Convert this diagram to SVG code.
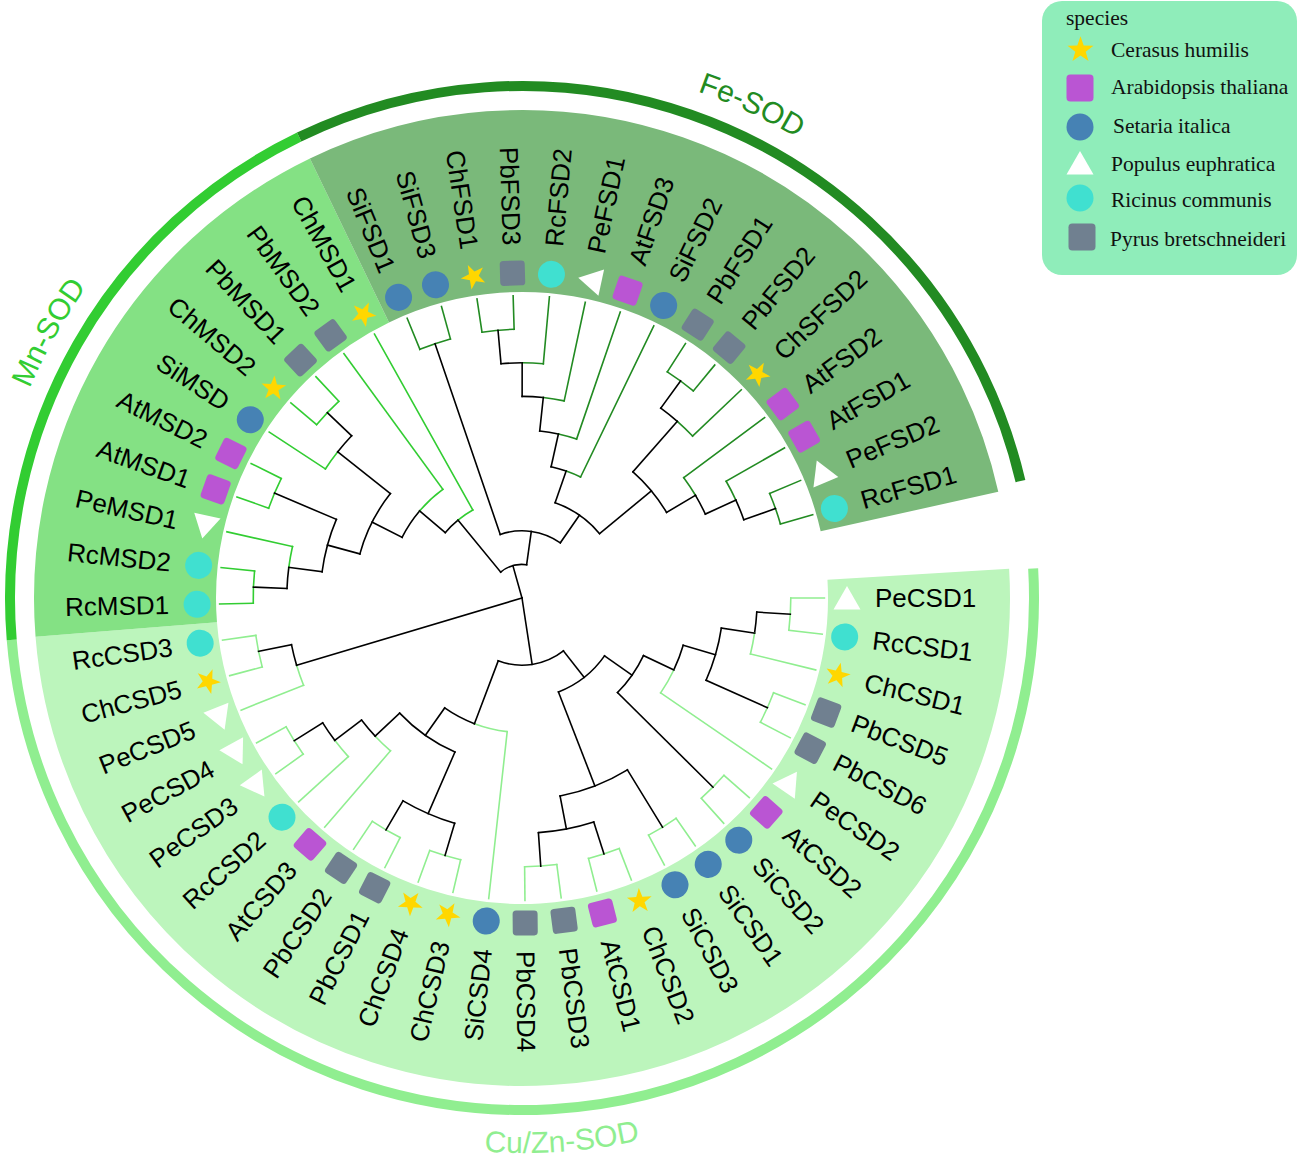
<svg xmlns="http://www.w3.org/2000/svg" xmlns:xlink="http://www.w3.org/1999/xlink" width="1299" height="1160" viewBox="0 0 1299 1160">
<style>
.k{stroke:#000}.fe{stroke:#228B22}.mn{stroke:#32CD32}.cu{stroke:#90EE90}
.ch{fill:#FFD700}.at{fill:#BA55D3}.si{fill:#4682B4}.pe{fill:#FFFFFF}.rc{fill:#40E0D0}.pb{fill:#708090}
.lbl text{font-family:"Liberation Sans",Arial,sans-serif;font-size:26px;fill:#000;dominant-baseline:central}
.lbl text.l{text-anchor:end}
.grp{font-family:"Liberation Sans",Arial,sans-serif;font-size:30px}
.lg{font-family:"Liberation Serif","Times New Roman",serif;font-size:21.5px;fill:#111}
</style>
<defs>
<circle id="c" r="13.5"/>
<rect id="sq" x="-12.5" y="-12.5" width="25" height="25" rx="3.5"/>
<path id="tri" d="M0,-12 L13.5,11.5 L-13.5,11.5 Z"/>
<path id="star" d="M0,-13 L3.05,-4.21 L12.36,-4.02 L4.95,1.61 L7.64,10.52 L0,5.2 L-7.64,10.52 L-4.95,1.61 L-12.36,-4.02 L-3.05,-4.21 Z"/>
<path id="pFe" d="M475.3,64.0 A536,536 0 0 1 961.1,290.6" fill="none"/>
<path id="pMn" d="M-12.96,604.5 A535,535 0 0 1 248.8,138.0" fill="none"/>
<path id="pCu" d="M324.9,1116.8 A555,555 0 0 0 792.8,1082.5" fill="none"/>
</defs>
<rect width="1299" height="1160" fill="#FFFFFF"/>
<g id="bands" fill="none" transform="translate(522 598)">
<circle r="397" stroke="#BCF5BC" stroke-width="182" pathLength="360" stroke-dasharray="178.88 400" transform="rotate(-3.44)"/>
<circle r="397" stroke="#84E184" stroke-width="182" pathLength="360" stroke-dasharray="68.8 400" transform="rotate(175.44)"/>
<circle r="397" stroke="#7AB97A" stroke-width="182" pathLength="360" stroke-dasharray="103.2 400" transform="rotate(244.24)"/>
</g>
<g id="group-arcs" fill="none" transform="translate(522 598)" stroke-width="10">
<circle id="arc-CuZn" r="512" stroke="#90EE90" pathLength="360" stroke-dasharray="178.6 400" transform="rotate(-3.3)"/>
<circle id="arc-Mn" r="512" stroke="#32CD32" pathLength="360" stroke-dasharray="68.9 400" transform="rotate(175.3)"/>
<circle id="arc-Fe" r="512" stroke="#228B22" pathLength="360" stroke-dasharray="102.6 400" transform="rotate(244.2)"/>
</g>
<g id="group-labels" class="grp">
<text fill="#228B22"><textPath href="#pFe" startOffset="50%" text-anchor="middle">Fe-SOD</textPath></text>
<text fill="#32CD32"><textPath href="#pMn" startOffset="50%" text-anchor="middle">Mn-SOD</textPath></text>
<text fill="#90EE90"><textPath href="#pCu" startOffset="50%" text-anchor="middle">Cu/Zn-SOD</textPath></text>
</g>
<g id="connectors" fill="none" stroke-width="1.6" stroke-linecap="square" transform="translate(522 598)">
<!-- arcs -->
<circle class="k" r="33.6" pathLength="360" stroke-dasharray="47.35 400" transform="rotate(230.59)"/>
<circle class="k" r="67.2" pathLength="360" stroke-dasharray="53.65 400" transform="rotate(251.12)"/>
<circle class="k" r="100.8" pathLength="360" stroke-dasharray="31.17 400" transform="rotate(289.18)"/>
<circle class="k" r="134.4" pathLength="360" stroke-dasharray="6.67 400" transform="rotate(282.51)"/>
<circle class="fe" r="134.4" pathLength="360" stroke-dasharray="6.66 400" transform="rotate(289.18)"/>
<circle class="k" r="168" pathLength="360" stroke-dasharray="6.45 400" transform="rotate(276.06)"/>
<circle class="fe" r="168" pathLength="360" stroke-dasharray="6.45 400" transform="rotate(282.51)"/>
<circle class="k" r="201.6" pathLength="360" stroke-dasharray="6.02 400" transform="rotate(270.04)"/>
<circle class="fe" r="201.6" pathLength="360" stroke-dasharray="6.02 400" transform="rotate(276.06)"/>
<circle class="k" r="235.2" pathLength="360" stroke-dasharray="5.16 400" transform="rotate(264.88)"/>
<circle class="fe" r="235.2" pathLength="360" stroke-dasharray="5.16 400" transform="rotate(270.04)"/>
<circle class="fe" r="268.8" pathLength="360" stroke-dasharray="6.88 400" transform="rotate(261.44)"/>
<circle class="fe" r="268.8" pathLength="360" stroke-dasharray="6.88 400" transform="rotate(247.68)"/>
<circle class="k" r="168" pathLength="360" stroke-dasharray="18.06 400" transform="rotate(311.32)"/>
<circle class="k" r="235.2" pathLength="360" stroke-dasharray="5.16 400" transform="rotate(306.16)"/>
<circle class="fe" r="235.2" pathLength="360" stroke-dasharray="5.16 400" transform="rotate(311.32)"/>
<circle class="fe" r="268.8" pathLength="360" stroke-dasharray="6.88 400" transform="rotate(302.72)"/>
<circle class="fe" r="201.6" pathLength="360" stroke-dasharray="6.02 400" transform="rotate(323.36)"/>
<circle class="k" r="201.6" pathLength="360" stroke-dasharray="6.02 400" transform="rotate(329.38)"/>
<circle class="fe" r="235.2" pathLength="360" stroke-dasharray="5.16 400" transform="rotate(330.24)"/>
<circle class="k" r="235.2" pathLength="360" stroke-dasharray="5.16 400" transform="rotate(335.4)"/>
<circle class="fe" r="268.8" pathLength="360" stroke-dasharray="6.88 400" transform="rotate(337.12)"/>
<circle class="k" r="100.8" pathLength="360" stroke-dasharray="10.21 400" transform="rotate(220.38)"/>
<circle class="mn" r="100.8" pathLength="360" stroke-dasharray="10.21 400" transform="rotate(230.59)"/>
<circle class="k" r="134.4" pathLength="360" stroke-dasharray="13.55 400" transform="rotate(206.83)"/>
<circle class="mn" r="134.4" pathLength="360" stroke-dasharray="13.54 400" transform="rotate(220.38)"/>
<circle class="k" r="168" pathLength="360" stroke-dasharray="23.22 400" transform="rotate(195.22)"/>
<circle class="mn" r="235.2" pathLength="360" stroke-dasharray="5.16 400" transform="rotate(213.28)"/>
<circle class="k" r="235.2" pathLength="360" stroke-dasharray="5.16 400" transform="rotate(218.44)"/>
<circle class="mn" r="268.8" pathLength="360" stroke-dasharray="6.88 400" transform="rotate(220.16)"/>
<circle class="k" r="201.6" pathLength="360" stroke-dasharray="15.48 400" transform="rotate(187.48)"/>
<circle class="mn" r="268.8" pathLength="360" stroke-dasharray="6.88 400" transform="rotate(199.52)"/>
<circle class="k" r="235.2" pathLength="360" stroke-dasharray="5.16 400" transform="rotate(182.32)"/>
<circle class="mn" r="235.2" pathLength="360" stroke-dasharray="5.16 400" transform="rotate(187.48)"/>
<circle class="mn" r="268.8" pathLength="360" stroke-dasharray="6.88 400" transform="rotate(178.88)"/>
<circle class="cu" r="235.2" pathLength="360" stroke-dasharray="5.16 400" transform="rotate(158.24)"/>
<circle class="k" r="235.2" pathLength="360" stroke-dasharray="5.16 400" transform="rotate(163.4)"/>
<circle class="cu" r="268.8" pathLength="360" stroke-dasharray="6.88 400" transform="rotate(165.12)"/>
<circle class="k" r="67.2" pathLength="360" stroke-dasharray="58.81 400" transform="rotate(51.92)"/>
<circle class="k" r="100.8" pathLength="360" stroke-dasharray="33.75 400" transform="rotate(35.05)"/>
<circle class="k" r="134.4" pathLength="360" stroke-dasharray="19.35 400" transform="rotate(25.37)"/>
<circle class="cu" r="268.8" pathLength="360" stroke-dasharray="6.88 400" transform="rotate(41.28)"/>
<circle class="k" r="168" pathLength="360" stroke-dasharray="9.03 400" transform="rotate(16.34)"/>
<circle class="cu" r="168" pathLength="360" stroke-dasharray="9.03 400" transform="rotate(25.37)"/>
<circle class="k" r="201.6" pathLength="360" stroke-dasharray="15.48 400" transform="rotate(8.6)"/>
<circle class="cu" r="268.8" pathLength="360" stroke-dasharray="6.88 400" transform="rotate(20.64)"/>
<circle class="k" r="235.2" pathLength="360" stroke-dasharray="5.16 400" transform="rotate(3.44)"/>
<circle class="cu" r="235.2" pathLength="360" stroke-dasharray="5.16 400" transform="rotate(8.6)"/>
<circle class="cu" r="268.8" pathLength="360" stroke-dasharray="6.88 400" transform="rotate(0)"/>
<circle class="k" r="201.6" pathLength="360" stroke-dasharray="20.64 400" transform="rotate(58.48)"/>
<circle class="cu" r="268.8" pathLength="360" stroke-dasharray="6.88 400" transform="rotate(55.04)"/>
<circle class="k" r="235.2" pathLength="360" stroke-dasharray="13.76 400" transform="rotate(72.24)"/>
<circle class="cu" r="268.8" pathLength="360" stroke-dasharray="6.88 400" transform="rotate(68.8)"/>
<circle class="cu" r="268.8" pathLength="360" stroke-dasharray="6.88 400" transform="rotate(82.56)"/>
<circle class="cu" r="134.4" pathLength="360" stroke-dasharray="14.41 400" transform="rotate(96.32)"/>
<circle class="k" r="134.4" pathLength="360" stroke-dasharray="14.4 400" transform="rotate(110.73)"/>
<circle class="k" r="168" pathLength="360" stroke-dasharray="23.22 400" transform="rotate(113.52)"/>
<circle class="k" r="235.2" pathLength="360" stroke-dasharray="13.76 400" transform="rotate(106.64)"/>
<circle class="cu" r="268.8" pathLength="360" stroke-dasharray="6.88 400" transform="rotate(103.2)"/>
<circle class="cu" r="268.8" pathLength="360" stroke-dasharray="6.88 400" transform="rotate(116.96)"/>
<circle class="cu" r="201.6" pathLength="360" stroke-dasharray="6.02 400" transform="rotate(130.72)"/>
<circle class="k" r="201.6" pathLength="360" stroke-dasharray="6.02 400" transform="rotate(136.74)"/>
<circle class="cu" r="235.2" pathLength="360" stroke-dasharray="5.16 400" transform="rotate(137.6)"/>
<circle class="k" r="235.2" pathLength="360" stroke-dasharray="5.16 400" transform="rotate(142.76)"/>
<circle class="cu" r="268.8" pathLength="360" stroke-dasharray="6.88 400" transform="rotate(144.48)"/>
<!-- internal radial lines -->
<line class="k" x1="0" x2="33.6" transform="rotate(254.27)"/>
<line class="k" x1="0" x2="235.2" transform="rotate(163.4)"/>
<line class="k" x1="0" x2="67.2" transform="rotate(81.32)"/>
<line class="k" x1="33.6" x2="100.8" transform="rotate(230.59)"/>
<line class="k" x1="33.6" x2="67.2" transform="rotate(277.94)"/>
<line class="k" x1="67.2" x2="268.8" transform="rotate(251.12)"/>
<line class="k" x1="67.2" x2="100.8" transform="rotate(304.77)"/>
<line class="k" x1="100.8" x2="134.4" transform="rotate(289.18)"/>
<line class="k" x1="100.8" x2="168" transform="rotate(320.35)"/>
<line class="k" x1="134.4" x2="168" transform="rotate(282.51)"/>
<line class="k" x1="168" x2="201.6" transform="rotate(276.06)"/>
<line class="k" x1="201.6" x2="235.2" transform="rotate(270.04)"/>
<line class="k" x1="235.2" x2="268.8" transform="rotate(264.88)"/>
<line class="k" x1="168" x2="235.2" transform="rotate(311.32)"/>
<line class="k" x1="168" x2="201.6" transform="rotate(329.38)"/>
<line class="k" x1="235.2" x2="268.8" transform="rotate(306.16)"/>
<line class="k" x1="201.6" x2="235.2" transform="rotate(335.4)"/>
<line class="k" x1="235.2" x2="268.8" transform="rotate(340.56)"/>
<line class="k" x1="100.8" x2="134.4" transform="rotate(220.38)"/>
<line class="k" x1="134.4" x2="168" transform="rotate(206.83)"/>
<line class="k" x1="168" x2="201.6" transform="rotate(195.22)"/>
<line class="k" x1="168" x2="235.2" transform="rotate(218.44)"/>
<line class="k" x1="235.2" x2="268.8" transform="rotate(223.6)"/>
<line class="k" x1="201.6" x2="235.2" transform="rotate(187.48)"/>
<line class="k" x1="201.6" x2="268.8" transform="rotate(202.96)"/>
<line class="k" x1="235.2" x2="268.8" transform="rotate(182.32)"/>
<line class="k" x1="235.2" x2="268.8" transform="rotate(168.56)"/>
<line class="k" x1="67.2" x2="100.8" transform="rotate(51.92)"/>
<line class="k" x1="67.2" x2="134.4" transform="rotate(110.73)"/>
<line class="k" x1="100.8" x2="134.4" transform="rotate(35.05)"/>
<line class="k" x1="100.8" x2="201.6" transform="rotate(68.8)"/>
<line class="k" x1="134.4" x2="168" transform="rotate(25.37)"/>
<line class="k" x1="134.4" x2="268.8" transform="rotate(44.72)"/>
<line class="k" x1="168" x2="201.6" transform="rotate(16.34)"/>
<line class="k" x1="201.6" x2="235.2" transform="rotate(8.6)"/>
<line class="k" x1="201.6" x2="268.8" transform="rotate(24.08)"/>
<line class="k" x1="235.2" x2="268.8" transform="rotate(3.44)"/>
<line class="k" x1="201.6" x2="268.8" transform="rotate(58.48)"/>
<line class="k" x1="201.6" x2="235.2" transform="rotate(79.12)"/>
<line class="k" x1="235.2" x2="268.8" transform="rotate(72.24)"/>
<line class="k" x1="235.2" x2="268.8" transform="rotate(86)"/>
<line class="k" x1="134.4" x2="168" transform="rotate(125.13)"/>
<line class="k" x1="168" x2="235.2" transform="rotate(113.52)"/>
<line class="k" x1="168" x2="201.6" transform="rotate(136.74)"/>
<line class="k" x1="235.2" x2="268.8" transform="rotate(106.64)"/>
<line class="k" x1="235.2" x2="268.8" transform="rotate(120.4)"/>
<line class="k" x1="201.6" x2="235.2" transform="rotate(142.76)"/>
<line class="k" x1="235.2" x2="268.8" transform="rotate(147.92)"/>
<!-- leaf radial lines -->
<line class="fe" x1="134.4" x2="302.4" transform="rotate(295.84)"/>
<line class="fe" x1="168" x2="302.4" transform="rotate(288.96)"/>
<line class="fe" x1="201.6" x2="302.4" transform="rotate(282.08)"/>
<line class="fe" x1="235.2" x2="302.4" transform="rotate(275.2)"/>
<line class="fe" x1="268.8" x2="302.4" transform="rotate(261.44)"/>
<line class="fe" x1="268.8" x2="302.4" transform="rotate(268.32)"/>
<line class="fe" x1="268.8" x2="302.4" transform="rotate(247.68)"/>
<line class="fe" x1="268.8" x2="302.4" transform="rotate(254.56)"/>
<line class="fe" x1="235.2" x2="302.4" transform="rotate(316.48)"/>
<line class="fe" x1="268.8" x2="302.4" transform="rotate(302.72)"/>
<line class="fe" x1="268.8" x2="302.4" transform="rotate(309.6)"/>
<line class="fe" x1="201.6" x2="302.4" transform="rotate(323.36)"/>
<line class="fe" x1="235.2" x2="302.4" transform="rotate(330.24)"/>
<line class="fe" x1="268.8" x2="302.4" transform="rotate(337.12)"/>
<line class="fe" x1="268.8" x2="302.4" transform="rotate(344)"/>
<line class="mn" x1="100.8" x2="302.4" transform="rotate(240.8)"/>
<line class="mn" x1="134.4" x2="302.4" transform="rotate(233.92)"/>
<line class="mn" x1="235.2" x2="302.4" transform="rotate(213.28)"/>
<line class="mn" x1="268.8" x2="302.4" transform="rotate(220.16)"/>
<line class="mn" x1="268.8" x2="302.4" transform="rotate(227.04)"/>
<line class="mn" x1="268.8" x2="302.4" transform="rotate(199.52)"/>
<line class="mn" x1="268.8" x2="302.4" transform="rotate(206.4)"/>
<line class="mn" x1="235.2" x2="302.4" transform="rotate(192.64)"/>
<line class="mn" x1="268.8" x2="302.4" transform="rotate(178.88)"/>
<line class="mn" x1="268.8" x2="302.4" transform="rotate(185.76)"/>
<line class="cu" x1="235.2" x2="302.4" transform="rotate(158.24)"/>
<line class="cu" x1="268.8" x2="302.4" transform="rotate(165.12)"/>
<line class="cu" x1="268.8" x2="302.4" transform="rotate(172)"/>
<line class="cu" x1="268.8" x2="302.4" transform="rotate(41.28)"/>
<line class="cu" x1="268.8" x2="302.4" transform="rotate(48.16)"/>
<line class="cu" x1="168" x2="302.4" transform="rotate(34.4)"/>
<line class="cu" x1="268.8" x2="302.4" transform="rotate(20.64)"/>
<line class="cu" x1="268.8" x2="302.4" transform="rotate(27.52)"/>
<line class="cu" x1="235.2" x2="302.4" transform="rotate(13.76)"/>
<line class="cu" x1="268.8" x2="302.4" transform="rotate(0)"/>
<line class="cu" x1="268.8" x2="302.4" transform="rotate(6.88)"/>
<line class="cu" x1="268.8" x2="302.4" transform="rotate(55.04)"/>
<line class="cu" x1="268.8" x2="302.4" transform="rotate(61.92)"/>
<line class="cu" x1="268.8" x2="302.4" transform="rotate(68.8)"/>
<line class="cu" x1="268.8" x2="302.4" transform="rotate(75.68)"/>
<line class="cu" x1="268.8" x2="302.4" transform="rotate(82.56)"/>
<line class="cu" x1="268.8" x2="302.4" transform="rotate(89.44)"/>
<line class="cu" x1="134.4" x2="302.4" transform="rotate(96.32)"/>
<line class="cu" x1="268.8" x2="302.4" transform="rotate(103.2)"/>
<line class="cu" x1="268.8" x2="302.4" transform="rotate(110.08)"/>
<line class="cu" x1="268.8" x2="302.4" transform="rotate(116.96)"/>
<line class="cu" x1="268.8" x2="302.4" transform="rotate(123.84)"/>
<line class="cu" x1="201.6" x2="302.4" transform="rotate(130.72)"/>
<line class="cu" x1="235.2" x2="302.4" transform="rotate(137.6)"/>
<line class="cu" x1="268.8" x2="302.4" transform="rotate(144.48)"/>
<line class="cu" x1="268.8" x2="302.4" transform="rotate(151.36)"/>
</g>
<g id="leaves" class="lbl" transform="translate(522 598)">
<g id="leaf-PeCSD1" transform="rotate(0)"><use href="#tri" class="pe" x="325"/><text x="353">PeCSD1</text></g>
<g id="leaf-RcCSD1" transform="rotate(6.88)"><use href="#c" class="rc" x="325"/><text x="353">RcCSD1</text></g>
<g id="leaf-ChCSD1" transform="rotate(13.76)"><use href="#star" class="ch" x="325"/><text x="353">ChCSD1</text></g>
<g id="leaf-PbCSD5" transform="rotate(20.64)"><use href="#sq" class="pb" x="325"/><text x="353">PbCSD5</text></g>
<g id="leaf-PbCSD6" transform="rotate(27.52)"><use href="#sq" class="pb" x="325"/><text x="353">PbCSD6</text></g>
<g id="leaf-PeCSD2" transform="rotate(34.4)"><use href="#tri" class="pe" x="325"/><text x="353">PeCSD2</text></g>
<g id="leaf-AtCSD2" transform="rotate(41.28)"><use href="#sq" class="at" x="325"/><text x="353">AtCSD2</text></g>
<g id="leaf-SiCSD2" transform="rotate(48.16)"><use href="#c" class="si" x="325"/><text x="353">SiCSD2</text></g>
<g id="leaf-SiCSD1" transform="rotate(55.04)"><use href="#c" class="si" x="325"/><text x="353">SiCSD1</text></g>
<g id="leaf-SiCSD3" transform="rotate(61.92)"><use href="#c" class="si" x="325"/><text x="353">SiCSD3</text></g>
<g id="leaf-ChCSD2" transform="rotate(68.8)"><use href="#star" class="ch" x="325"/><text x="353">ChCSD2</text></g>
<g id="leaf-AtCSD1" transform="rotate(75.68)"><use href="#sq" class="at" x="325"/><text x="353">AtCSD1</text></g>
<g id="leaf-PbCSD3" transform="rotate(82.56)"><use href="#sq" class="pb" x="325"/><text x="353">PbCSD3</text></g>
<g id="leaf-PbCSD4" transform="rotate(89.44)"><use href="#sq" class="pb" x="325"/><text x="353">PbCSD4</text></g>
<g id="leaf-SiCSD4" transform="rotate(96.32)"><use href="#c" class="si" x="325"/><text class="l" transform="rotate(180)" x="-353">SiCSD4</text></g>
<g id="leaf-ChCSD3" transform="rotate(103.2)"><use href="#star" class="ch" x="325"/><text class="l" transform="rotate(180)" x="-353">ChCSD3</text></g>
<g id="leaf-ChCSD4" transform="rotate(110.08)"><use href="#star" class="ch" x="325"/><text class="l" transform="rotate(180)" x="-353">ChCSD4</text></g>
<g id="leaf-PbCSD1" transform="rotate(116.96)"><use href="#sq" class="pb" x="325"/><text class="l" transform="rotate(180)" x="-353">PbCSD1</text></g>
<g id="leaf-PbCSD2" transform="rotate(123.84)"><use href="#sq" class="pb" x="325"/><text class="l" transform="rotate(180)" x="-353">PbCSD2</text></g>
<g id="leaf-AtCSD3" transform="rotate(130.72)"><use href="#sq" class="at" x="325"/><text class="l" transform="rotate(180)" x="-353">AtCSD3</text></g>
<g id="leaf-RcCSD2" transform="rotate(137.6)"><use href="#c" class="rc" x="325"/><text class="l" transform="rotate(180)" x="-353">RcCSD2</text></g>
<g id="leaf-PeCSD3" transform="rotate(144.48)"><use href="#tri" class="pe" x="325"/><text class="l" transform="rotate(180)" x="-353">PeCSD3</text></g>
<g id="leaf-PeCSD4" transform="rotate(151.36)"><use href="#tri" class="pe" x="325"/><text class="l" transform="rotate(180)" x="-353">PeCSD4</text></g>
<g id="leaf-PeCSD5" transform="rotate(158.24)"><use href="#tri" class="pe" x="325"/><text class="l" transform="rotate(180)" x="-353">PeCSD5</text></g>
<g id="leaf-ChCSD5" transform="rotate(165.12)"><use href="#star" class="ch" x="325"/><text class="l" transform="rotate(180)" x="-353">ChCSD5</text></g>
<g id="leaf-RcCSD3" transform="rotate(172)"><use href="#c" class="rc" x="325"/><text class="l" transform="rotate(180)" x="-353">RcCSD3</text></g>
<g id="leaf-RcMSD1" transform="rotate(178.88)"><use href="#c" class="rc" x="325"/><text class="l" transform="rotate(180)" x="-353">RcMSD1</text></g>
<g id="leaf-RcMSD2" transform="rotate(185.76)"><use href="#c" class="rc" x="325"/><text class="l" transform="rotate(180)" x="-353">RcMSD2</text></g>
<g id="leaf-PeMSD1" transform="rotate(192.64)"><use href="#tri" class="pe" x="325"/><text class="l" transform="rotate(180)" x="-353">PeMSD1</text></g>
<g id="leaf-AtMSD1" transform="rotate(199.52)"><use href="#sq" class="at" x="325"/><text class="l" transform="rotate(180)" x="-353">AtMSD1</text></g>
<g id="leaf-AtMSD2" transform="rotate(206.4)"><use href="#sq" class="at" x="325"/><text class="l" transform="rotate(180)" x="-353">AtMSD2</text></g>
<g id="leaf-SiMSD" transform="rotate(213.28)"><use href="#c" class="si" x="325"/><text class="l" transform="rotate(180)" x="-353">SiMSD</text></g>
<g id="leaf-ChMSD2" transform="rotate(220.16)"><use href="#star" class="ch" x="325"/><text class="l" transform="rotate(180)" x="-353">ChMSD2</text></g>
<g id="leaf-PbMSD1" transform="rotate(227.04)"><use href="#sq" class="pb" x="325"/><text class="l" transform="rotate(180)" x="-353">PbMSD1</text></g>
<g id="leaf-PbMSD2" transform="rotate(233.92)"><use href="#sq" class="pb" x="325"/><text class="l" transform="rotate(180)" x="-353">PbMSD2</text></g>
<g id="leaf-ChMSD1" transform="rotate(240.8)"><use href="#star" class="ch" x="325"/><text class="l" transform="rotate(180)" x="-353">ChMSD1</text></g>
<g id="leaf-SiFSD1" transform="rotate(247.68)"><use href="#c" class="si" x="325"/><text class="l" transform="rotate(180)" x="-353">SiFSD1</text></g>
<g id="leaf-SiFSD3" transform="rotate(254.56)"><use href="#c" class="si" x="325"/><text class="l" transform="rotate(180)" x="-353">SiFSD3</text></g>
<g id="leaf-ChFSD1" transform="rotate(261.44)"><use href="#star" class="ch" x="325"/><text class="l" transform="rotate(180)" x="-353">ChFSD1</text></g>
<g id="leaf-PbFSD3" transform="rotate(268.32)"><use href="#sq" class="pb" x="325"/><text class="l" transform="rotate(180)" x="-353">PbFSD3</text></g>
<g id="leaf-RcFSD2" transform="rotate(275.2)"><use href="#c" class="rc" x="325"/><text x="353">RcFSD2</text></g>
<g id="leaf-PeFSD1" transform="rotate(282.08)"><use href="#tri" class="pe" x="325"/><text x="353">PeFSD1</text></g>
<g id="leaf-AtFSD3" transform="rotate(288.96)"><use href="#sq" class="at" x="325"/><text x="353">AtFSD3</text></g>
<g id="leaf-SiFSD2" transform="rotate(295.84)"><use href="#c" class="si" x="325"/><text x="353">SiFSD2</text></g>
<g id="leaf-PbFSD1" transform="rotate(302.72)"><use href="#sq" class="pb" x="325"/><text x="353">PbFSD1</text></g>
<g id="leaf-PbFSD2" transform="rotate(309.6)"><use href="#sq" class="pb" x="325"/><text x="353">PbFSD2</text></g>
<g id="leaf-ChSFSD2" transform="rotate(316.48)"><use href="#star" class="ch" x="325"/><text x="353">ChSFSD2</text></g>
<g id="leaf-AtFSD2" transform="rotate(323.36)"><use href="#sq" class="at" x="325"/><text x="353">AtFSD2</text></g>
<g id="leaf-AtFSD1" transform="rotate(330.24)"><use href="#sq" class="at" x="325"/><text x="353">AtFSD1</text></g>
<g id="leaf-PeFSD2" transform="rotate(337.12)"><use href="#tri" class="pe" x="325"/><text x="353">PeFSD2</text></g>
<g id="leaf-RcFSD1" transform="rotate(344)"><use href="#c" class="rc" x="325"/><text x="353">RcFSD1</text></g>
</g>
<g id="legend">
<rect x="1042" y="1" width="255" height="274" rx="20" fill="#8FEDBA"/>
<text class="lg" x="1066" y="25">species</text>
<use href="#star" class="ch" transform="translate(1080.5 50) scale(1.05)"/>
<text class="lg" x="1111" y="57">Cerasus humilis</text>
<use href="#sq" class="at" transform="translate(1080 88) scale(1.08)"/>
<text class="lg" x="1111" y="94">Arabidopsis thaliana</text>
<use href="#c" class="si" x="1080" y="127"/>
<text class="lg" x="1113" y="133">Setaria italica</text>
<use href="#tri" class="pe" transform="translate(1080 163)"/>
<text class="lg" x="1111" y="171">Populus euphratica</text>
<use href="#c" class="rc" x="1080" y="198"/>
<text class="lg" x="1111" y="207">Ricinus communis</text>
<use href="#sq" class="pb" transform="translate(1082 237) scale(1.08)"/>
<text class="lg" x="1110" y="246">Pyrus bretschneideri</text>
</g>
</svg>
